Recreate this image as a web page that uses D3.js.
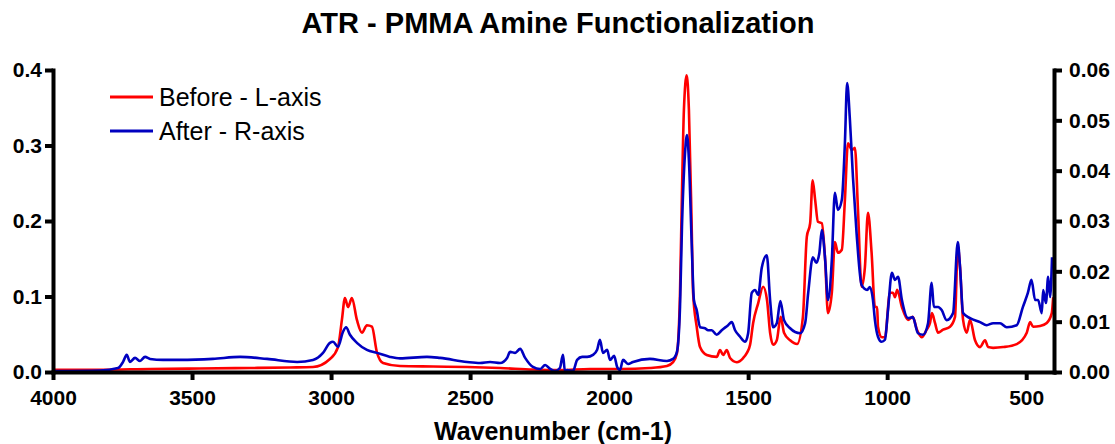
<!DOCTYPE html>
<html>
<head>
<meta charset="utf-8">
<script src="https://cdn.jsdelivr.net/npm/d3@7"></script>
<style>
  html, body { margin: 0; padding: 0; background: #fff; }
  svg { display: block; font-family: "Liberation Sans", Arial, sans-serif; }
</style>
</head>
<body>
<svg id="chart" width="1115" height="444"></svg>
<script>
// ATR spectra: [wavenumber (cm-1), absorbance]
const beforeSpectrum = [
  [4000,0.003],[3831,0.003],[3651,0.004],[3471,0.0046],[3291,0.0053],[3148,0.006],[3065,0.0066],
  [3004,0.0172],[2975,0.033],[2961,0.069],[2950,0.098],[2939,0.086],[2925,0.098],[2907,0.069],
  [2889,0.052],[2871,0.062],[2853,0.060],[2835,0.026],[2813,0.012],[2752,0.008],[2633,0.0073],
  [2511,0.0066],[2392,0.0053],[2274,0.0033],[2177,0.0026],[2069,0.004],[1961,0.004],[1853,0.0053],
  [1792,0.008],[1770,0.013],[1756,0.025],[1745,0.105],[1738,0.237],[1731,0.347],[1721,0.393],
  [1713,0.347],[1703,0.192],[1698,0.105],[1685,0.060],[1673,0.033],[1649,0.0225],[1613,0.020],
  [1601,0.029],[1590,0.0225],[1577,0.029],[1565,0.0185],[1541,0.013],[1518,0.0185],[1505,0.025],
  [1493,0.036],[1482,0.065],[1464,0.091],[1446,0.113],[1432,0.095],[1421,0.052],[1410,0.036],
  [1397,0.042],[1383,0.073],[1371,0.052],[1349,0.042],[1324,0.037],[1303,0.073],[1289,0.179],
  [1277,0.197],[1268,0.254],[1259,0.228],[1249,0.199],[1235,0.197],[1223,0.148],[1213,0.078],
  [1199,0.105],[1188,0.172],[1177,0.158],[1163,0.162],[1152,0.228],[1141,0.303],[1127,0.294],
  [1116,0.297],[1105,0.215],[1092,0.113],[1080,0.139],[1069,0.211],[1056,0.158],[1044,0.086],
  [1036,0.086],[1033,0.060],[1019,0.046],[1008,0.046],[990,0.105],[979,0.105],[972,0.099],
  [964,0.109],[947,0.086],[925,0.069],[908,0.073],[893,0.056],[876,0.046],[858,0.056],[846,0.065],
  [839,0.078],[828,0.065],[817,0.052],[799,0.056],[774,0.060],[756,0.073],[746,0.166],[738,0.139],
  [727,0.069],[714,0.052],[702,0.069],[684,0.042],[666,0.033],[648,0.042],[637,0.033],[619,0.032],
  [583,0.033],[534,0.037],[498,0.052],[486,0.066],[475,0.060],[450,0.061],[426,0.065],[408,0.078],
  [403,0.099]
];

const afterSpectrum = [
  [4000,0.0002],[3831,0.0003],[3766,0.0008],[3748,0.002],[3735,0.0034],[3723,0.002],[3705,0.0028],
  [3687,0.0022],[3669,0.003],[3651,0.0026],[3604,0.0024],[3543,0.0024],[3425,0.0026],[3327,0.003],
  [3230,0.0026],[3122,0.002],[3065,0.0024],[3029,0.0038],[3004,0.0058],[2993,0.006],[2975,0.005],
  [2957,0.008],[2946,0.0089],[2932,0.0074],[2907,0.0058],[2871,0.0044],[2835,0.0038],[2788,0.003],
  [2752,0.0027],[2655,0.003],[2608,0.0028],[2511,0.002],[2464,0.0018],[2428,0.002],[2392,0.0018],
  [2367,0.0028],[2356,0.004],[2338,0.0038],[2320,0.0046],[2302,0.0028],[2274,0.001],[2248,0.0006],
  [2230,0.0014],[2212,0.0006],[2195,0.0002],[2177,0.0008],[2166,0.0034],[2159,0.0002],[2151,0.0004],
  [2130,0.0002],[2115,0.0024],[2097,0.003],[2079,0.003],[2058,0.0034],[2043,0.0044],[2033,0.0064],
  [2022,0.0038],[2007,0.0044],[1997,0.0024],[1982,0.0032],[1971,0.001],[1961,0.0004],[1950,0.0024],
  [1932,0.0016],[1914,0.002],[1853,0.0026],[1792,0.0022],[1770,0.0026],[1756,0.004],[1745,0.0129],
  [1738,0.0288],[1727,0.0435],[1720,0.0471],[1713,0.0421],[1703,0.0256],[1695,0.0143],[1685,0.0123],
  [1673,0.0089],[1655,0.0087],[1644,0.0083],[1631,0.0083],[1613,0.0074],[1595,0.0083],[1572,0.0093],
  [1559,0.0099],[1547,0.0083],[1529,0.007],[1511,0.006],[1500,0.0077],[1487,0.0157],[1475,0.0163],
  [1464,0.0153],[1451,0.0207],[1433,0.0232],[1421,0.0143],[1410,0.0089],[1397,0.0097],[1384,0.0141],
  [1371,0.0103],[1349,0.0087],[1313,0.0077],[1295,0.0097],[1284,0.0157],[1267,0.0228],[1255,0.0217],
  [1244,0.0236],[1235,0.0282],[1223,0.0223],[1213,0.0143],[1199,0.0223],[1188,0.0356],[1177,0.0322],
  [1163,0.0342],[1152,0.0455],[1144,0.0574],[1134,0.0501],[1123,0.0387],[1110,0.0276],[1092,0.0173],
  [1072,0.0163],[1062,0.0169],[1051,0.0143],[1044,0.0103],[1033,0.007],[1020,0.006],[1008,0.0064],
  [997,0.0123],[983,0.0197],[972,0.0183],[961,0.0189],[947,0.0143],[925,0.0107],[908,0.0109],
  [889,0.0077],[871,0.0074],[853,0.0097],[840,0.0177],[832,0.0129],[817,0.0129],[804,0.0123],
  [786,0.0103],[763,0.0117],[746,0.0258],[738,0.0209],[727,0.0117],[702,0.0107],[666,0.0099],
  [642,0.0093],[619,0.0097],[594,0.0097],[570,0.0089],[534,0.0093],[512,0.0129],[494,0.0157],
  [481,0.0183],[468,0.0143],[457,0.0143],[444,0.0117],[439,0.0163],[429,0.0137],[421,0.0189],
  [414,0.0149],[407,0.0228]
];

const xTicks = [4000, 3500, 3000, 2500, 2000, 1500, 1000, 500];
const leftTicks = [0.0, 0.1, 0.2, 0.3, 0.4];
const rightTicks = [0.00, 0.01, 0.02, 0.03, 0.04, 0.05, 0.06];

const seriesNames = ["Before - L-axis", "After - R-axis"];
const seriesColors = ["#ff0000", "#0000c0"];

const svg = d3.select("#chart");

const plot = { left: 53, right: 1054, top: 70, bottom: 372 };

const x = d3.scaleLinear().domain([4000, 400]).range([plot.left, plot.right]);
const yLeft = d3.scaleLinear().domain([0, 0.4]).range([plot.bottom, plot.top]);
const yRight = d3.scaleLinear().domain([0, 0.06]).range([plot.bottom, plot.top]);

// spectra
const lineLeft = d3.line().x(d => x(d[0])).y(d => yLeft(d[1])).curve(d3.curveMonotoneX);
const lineRight = d3.line().x(d => x(d[0])).y(d => yRight(d[1])).curve(d3.curveMonotoneX);

svg.append("path")
  .datum(beforeSpectrum)
  .attr("d", lineLeft)
  .attr("fill", "none")
  .attr("stroke", seriesColors[0])
  .attr("stroke-width", 2.6)
  .attr("stroke-linejoin", "round");

svg.append("path")
  .datum(afterSpectrum)
  .attr("d", lineRight)
  .attr("fill", "none")
  .attr("stroke", seriesColors[1])
  .attr("stroke-width", 2.6)
  .attr("stroke-linejoin", "round");

// axes
function styleAxis(g) {
  g.select(".domain").attr("stroke", "#000").attr("stroke-width", 4).attr("stroke-linecap", "square");
  g.selectAll(".tick line").attr("stroke", "#000").attr("stroke-width", 4);
  g.selectAll(".tick text")
    .attr("fill", "#000")
    .style("font-family", "'Liberation Sans', Arial, sans-serif")
    .style("font-weight", "bold")
    .style("font-size", "21px");
}

svg.append("g")
  .attr("transform", `translate(0,${plot.bottom})`)
  .call(d3.axisBottom(x).tickValues(xTicks).tickFormat(d3.format("d")).tickSizeInner(8).tickSizeOuter(0).tickPadding(10))
  .call(styleAxis);

svg.append("g")
  .attr("transform", `translate(${plot.left},0)`)
  .call(d3.axisLeft(yLeft).tickValues(leftTicks).tickFormat(d3.format(".1f")).tickSizeInner(8).tickSizeOuter(0).tickPadding(3))
  .call(styleAxis);

svg.append("g")
  .attr("transform", `translate(${plot.right},0)`)
  .call(d3.axisRight(yRight).tickValues(rightTicks).tickFormat(d3.format(".2f")).tickSizeInner(8).tickSizeOuter(0).tickPadding(7))
  .call(styleAxis);

// titles
svg.append("text")
  .attr("x", 558).attr("y", 33)
  .attr("text-anchor", "middle")
  .style("font-weight", "bold").style("font-size", "29px")
  .text("ATR - PMMA Amine Functionalization");

svg.append("text")
  .attr("x", 553).attr("y", 440)
  .attr("text-anchor", "middle")
  .style("font-weight", "bold").style("font-size", "25px")
  .text("Wavenumber (cm-1)");

// legend
const legend = svg.append("g");
seriesNames.forEach((name, i) => {
  const ly = [97, 131][i];
  legend.append("line")
    .attr("x1", 110).attr("x2", 153).attr("y1", ly).attr("y2", ly)
    .attr("stroke", seriesColors[i]).attr("stroke-width", 3);
  legend.append("text")
    .attr("x", 159).attr("y", ly + 9)
    .style("font-size", "25px")
    .text(name);
});
</script>
</body>
</html>
